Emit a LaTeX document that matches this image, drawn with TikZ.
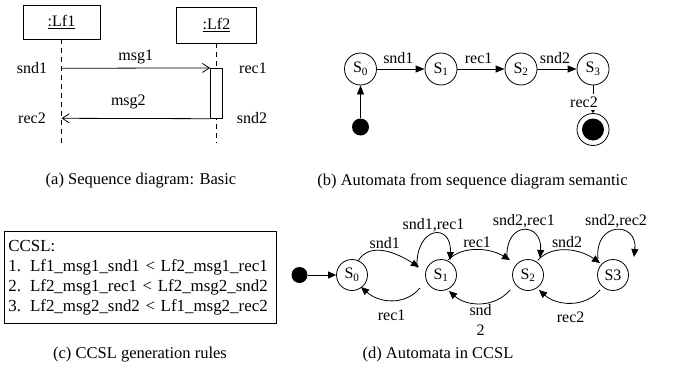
\documentclass[tikz,border=0pt]{standalone}
\usepackage{fontspec}
\setmainfont{Liberation Serif}
\usetikzlibrary{arrows.meta,calc}
\begin{document}
\begin{tikzpicture}[x=1pt,y=-1pt,line width=0.8pt,
  lbl/.style={font=\fontsize{16}{20}\selectfont, inner sep=1pt},
  captxt/.style={font=\fontsize{16.5}{20}\selectfont, inner sep=0pt},
  lifebox/.style={draw, inner sep=0pt, font=\fontsize{16}{20}\selectfont},
  lifeline/.style={dash pattern=on 5pt off 4pt},
  seqarrow/.style={-{Straight Barb[length=7pt,width=9pt]}},
  stb/.style={draw, circle, minimum size=32pt, inner sep=0pt, font=\fontsize{16}{20}\selectfont},
  std/.style={draw, circle, minimum size=31pt, inner sep=0pt, font=\fontsize{16}{20}\selectfont},
  tr/.style={-{Triangle[length=9pt,width=7pt]}},
  trd/.style={-{Triangle[length=8pt,width=7pt]}},
  initdot/.style={circle, fill=black, inner sep=0pt},
]
\useasboundingbox (0,0) rectangle (673,375);

% ---------- (a) sequence diagram ----------
\node[lifebox, minimum width=77pt, minimum height=34pt] (lf1) at (61.5,22) {\underline{:Lf1}};
\node[lifebox, minimum width=80pt, minimum height=36pt] (lf2) at (216.5,25) {\underline{:Lf2}};
\coordinate (l1end) at (61.5,143);
\coordinate (l2end) at (216.5,143);
\draw[lifeline] (lf1.south) -- (l1end);
\draw[lifeline] (lf2.south) -- (l2end);
\node[draw, fill=white, minimum width=12pt, minimum height=50pt, inner sep=0pt] (act) at (216.5,93.3) {};
\coordinate (m1s) at (61.5,68.3);
\coordinate (m2e) at (61.5,118.3);
\draw[seqarrow] (m1s) -- node[lbl, pos=0.5, above=3pt] {msg1} (act.north west);
\draw[seqarrow] (act.south west) -- node[lbl, pos=0.55, above=8pt] {msg2} (m2e);
\node[lbl] (snd1a) at (32,68) {snd1};
\node[lbl] (rec2a) at (32,118) {rec2};
\node[lbl] (rec1a) at (253,68) {rec1};
\node[lbl] (snd2a) at (252,118) {snd2};
\node[captxt] (capa) at (141,181) {(a) Sequence diagram: Basic};

% ---------- (b) automaton ----------
\node[stb] (b0) at (360.5,69) {S\textsubscript{0}};
\node[stb] (b1) at (441,69) {S\textsubscript{1}};
\node[stb] (b2) at (521,69) {S\textsubscript{2}};
\node[stb] (b3) at (593,69) {S\textsubscript{3}};
\node[initdot, minimum size=17pt] (bi) at (360.5,127) {};
\node[circle, draw, minimum size=32pt, inner sep=0pt] (bf) at (593,129.5) {};
\node[initdot, minimum size=22pt] (bfin) at (bf.center) {};
\draw[tr] (b0) -- node[lbl, pos=0.45, above=4pt] {snd1} (b1);
\draw[tr] (b1) -- node[lbl, pos=0.45, above=4pt] {rec1} (b2);
\draw[tr] (b2) -- node[lbl, pos=0.45, above=4pt] {snd2} (b3);
\draw[tr] (bi) -- (b0);
\draw[-{Triangle[length=4pt,width=5pt]}] (b3) -- (bf);
\node[lbl, fill=white, inner ysep=3pt] (rec2b) at (584,102) {rec2};
\node[captxt] (capb) at (472.5,181) {(b) Automata from sequence diagram semantic};

% ---------- (c) CCSL rules ----------
\node[draw, anchor=north west, inner xsep=4pt, inner ysep=0pt, text width=264pt,
      minimum height=92pt, align=left, font=\fontsize{16.9}{20}\selectfont] (ccsl) at (4,231)
  {CCSL:\\
   1.\hspace{9pt}Lf1\_msg1\_snd1 < Lf2\_msg1\_rec1\\
   2.\hspace{9pt}Lf2\_msg1\_rec1 < Lf2\_msg2\_snd2\\
   3.\hspace{9pt}Lf2\_msg2\_snd2 < Lf1\_msg2\_rec2};
\node[captxt] (capc) at (140,355) {(c) CCSL generation rules};

% ---------- (d) automaton in CCSL ----------
\node[initdot, minimum size=16pt] (di) at (299.5,275) {};
\node[std] (d0) at (352,275) {S\textsubscript{0}};
\node[std] (d1) at (441,275) {S\textsubscript{1}};
\node[std] (d2) at (528,275) {S\textsubscript{2}};
\node[std] (d3) at (613,275) {S3};
\draw[trd] (di) -- (d0);
% forward arcs
\draw[trd] ($(d0)+(6,-14)$) .. controls +(12,-20) and +(-22,-14) .. node[lbl, midway, above=1pt] {snd1} ($(d1)+(-22,-8)$);
\draw[trd] ($(d1)+(7,-15)$) .. controls +(15,-15) and +(-20,-12) .. node[lbl, midway, above=1pt] {rec1} ($(d2)+(-18,-15)$);
\draw[trd] ($(d2)+(10,-15)$) .. controls +(15,-16) and +(-20,-14) .. node[lbl, midway, above=1pt] {snd2} ($(d3)+(-13,-12)$);
% self loops
\draw[trd] ($(d1)+(-24,-7)$) .. controls +(-2,-42) and +(2,-38) .. node[lbl, midway, above=1pt] {snd1,rec1} ($(d1)+(9,-15)$);
\draw[trd] ($(d2)+(-21,-17)$) .. controls +(-2,-38) and +(3,-36) .. node[lbl, midway, above=1pt] {snd2,rec1} ($(d2)+(12,-17)$);
\draw[trd] ($(d3)+(-15,-16)$) .. controls +(-4,-38) and +(4,-36) .. node[lbl, midway, above=1pt] {snd2,rec2} ($(d3)+(21,-18)$);
% backward arcs
\draw[trd] ($(d1)+(-21,13)$) .. controls +(-15,18) and +(18,16) .. node[lbl, midway, below=8pt] {rec1} ($(d0)+(9,12)$);
\draw[trd] ($(d2)+(-18,15)$) .. controls +(-15,18) and +(18,16) .. node[lbl, midway, below=0pt, align=center] {snd\\2} ($(d1)+(8,16)$);
\draw[trd] ($(d3)+(-13,15)$) .. controls +(-15,18) and +(18,16) .. node[lbl, midway, below=8pt] {rec2} ($(d2)+(11,15)$);
\node[captxt] (capd) at (438,355) {(d) Automata in CCSL};
\end{tikzpicture}
\end{document}
